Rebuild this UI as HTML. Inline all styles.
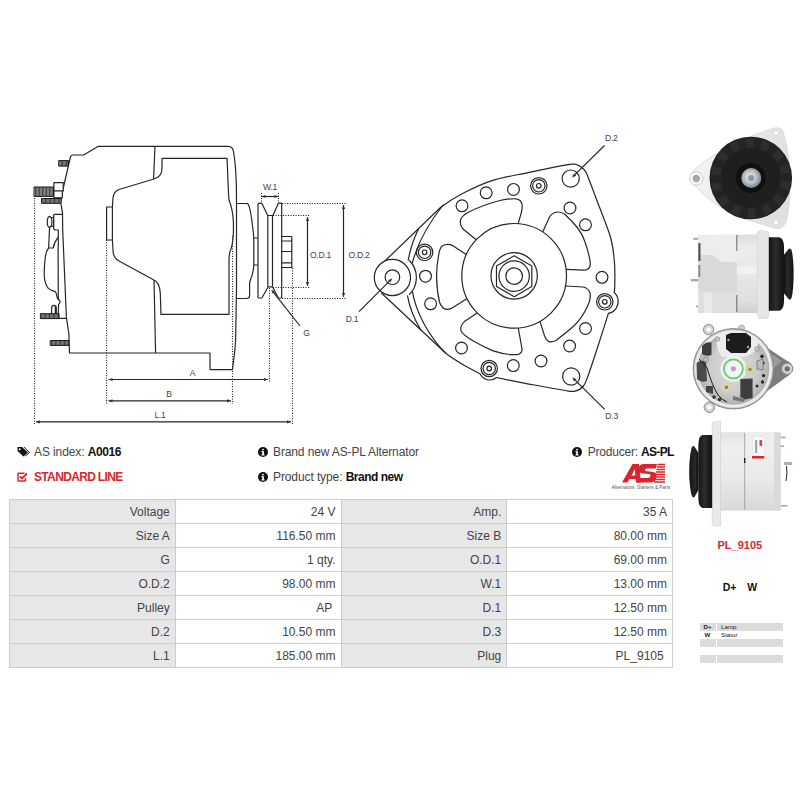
<!DOCTYPE html>
<html><head><meta charset="utf-8"><style>
*{margin:0;padding:0;box-sizing:border-box}
html,body{width:800px;height:800px;background:#fff;overflow:hidden}
body{position:relative;font-family:"Liberation Sans",sans-serif;color:#333}
svg.main{position:absolute;left:0;top:0}
.t{position:absolute;white-space:nowrap;font-size:12px;line-height:14px;color:#444}
.t b{color:#111}
.red{color:#d9262e !important;font-weight:bold}
table{position:absolute;left:9px;top:499px;width:664px;border-collapse:collapse;table-layout:fixed;font-size:12px}
td{height:24px;border:1px solid #cdcdcd;text-align:right;padding:0 5px 0 0;color:#444;background:#fff;line-height:14px}
td.l{background:#e7e7e7}
.mini{position:absolute;left:699.5px;top:623.2px;width:83.5px}
.mini div{height:7.9px;display:flex;font-size:6.2px;line-height:7.9px;color:#222}
.mini span{display:block}
.mini .a{width:16px;text-align:center;font-weight:bold;margin-right:1.5px}
.mini .b{flex:1;padding-left:4px}
.mini .g span{background:#dcdcdc}
</style></head><body>
<svg class="main" width="800" height="800" viewBox="0 0 800 800">
<g fill="none" stroke="#262626" stroke-width="1.2" stroke-linejoin="round" font-family="Liberation Sans, sans-serif">
<g>
<path d="M69.5 353 L210 353 L210 369.6 L232.4 369.6 C233.5 362 235 352 235.6 340 L236.5 290 L236.5 200 C236.5 175 235 160 233.5 152 Q233 146.4 228 146.4 L98 146.4 L83.6 155 L73 155 Q70.8 155 70.3 157.5 L64.2 184 L61.5 196.4 L60.8 203 L62.5 213 L62.7 230 L66.4 317.7 L68.9 334 L69.5 353 Z" fill="#fff"/>
<path d="M155 146.4 L153.6 179 M154 280 L155.6 353"/>
<path d="M162 158.4 L227 158.4 C228 175 228 190 229 200 C231 205 233 212 233.4 222 C233.8 236 233 243 231 249 C229.5 252 229 255 229 260 L229 314.4 L161 314.4 L160.3 293 C159.8 285 157 281 153 279.5 L119 261 C115 259 113 256 113 250 L112.4 240 L112.4 207 L113 198 C113.5 193 115 191 119 189.5 L154 179 C159 177 162 175 162 168 Z"/>
<path d="M112.4 207 L106.6 207 L106.6 240 L112.4 240"/>
<path d="M236.5 203.5 L247.5 203.5 C249.5 205 251 212 252.7 227.5 C253.5 233 253.8 236 253.8 240 L253.8 265 C253.8 271 252 276 250.2 280.5 L249.6 283 L249.6 295.5 Q249.6 298.5 246.5 298.5 L236.5 298.5"/>
<path d="M253.8 238 H258 M253.8 265 H258"/>
<path d="M258 298 L258 205 Q258 203.2 260 203.2 L261.8 203.2 L267.8 215.5 L273 215.5 L278.3 203.2 L281.7 203.2 L281.7 298 M258 298 Q258 298 261.8 298 L268.3 286.8 L272.5 286.8 L278.3 298 L281.7 298"/>
<path d="M267.8 215.5 V286.8 M272.5 215.5 V286.8"/>
<path d="M281.7 236.5 H291.8 V267.5 H281.7 M281.7 241 H291.8 M281.7 251.5 H291.8 M281.7 262.8 H291.8"/>
<path d="M58.1 246 L58.3 300 M40.4 318.4 L66.4 318.4"/>
<path d="M62.6 214.4 L54.8 214.4 Q53.6 214.4 53.6 215.6 L53.6 228 Q53.8 230 56 230 L58.3 230 L58.3 246"/>
<path d="M49.6 227.2 L48.6 248 L53.3 247.8 Q54.2 241.9 58.3 237.2"/>
<path d="M48.6 248 Q46 251 45.2 258 Q44 268 44.3 276 Q44.8 284 48.3 288.4 Q51 290.8 54.9 291.3 Q56.3 292.5 56.6 295 Q57 299 60 301 Q60.5 302.5 58.6 304.4 L58.1 318.4"/>
<rect x="50" y="217.5" width="3.6" height="8.8" fill="#fff"/>
<ellipse cx="49.6" cy="221.9" rx="2.3" ry="5.2" fill="#fff"/>
<path d="M51.6 314.4 L51.6 308 Q51.8 305.3 54 305.3 Q56.3 305.3 56.3 308 L56.3 314.4 M55.3 306 V314.4"/>
<rect x="53.9" y="182.6" width="9.3" height="8.4" fill="#fff"/>
<rect x="53.9" y="191" width="8.4" height="6.8" fill="#fff"/>
<rect x="58.7" y="160.6" width="9.8" height="5.5" fill="#d0d0d0" stroke="#1a1a1a" stroke-width="1"/><path d="M60 160.6V166.1M61.3 160.6V166.1M62.6 160.6V166.1M63.9 160.6V166.1M65.2 160.6V166.1M66.5 160.6V166.1M67.8 160.6V166.1" stroke="#1a1a1a" stroke-width="0.8"/>
<rect x="34" y="187" width="19.5" height="9.4" fill="#d0d0d0" stroke="#1a1a1a" stroke-width="1"/><path d="M35.4 187V196.4M36.8 187V196.4M38.2 187V196.4M39.6 187V196.4M41 187V196.4M42.4 187V196.4M43.8 187V196.4M45.2 187V196.4M46.6 187V196.4M48 187V196.4M49.4 187V196.4M50.8 187V196.4M52.2 187V196.4" stroke="#1a1a1a" stroke-width="0.8"/>
<rect x="41.5" y="198.5" width="19.5" height="4.8" fill="#d0d0d0" stroke="#1a1a1a" stroke-width="1"/><path d="M42.8 198.5V203.3M44.1 198.5V203.3M45.4 198.5V203.3M46.7 198.5V203.3M48 198.5V203.3M49.3 198.5V203.3M50.6 198.5V203.3M51.9 198.5V203.3M53.2 198.5V203.3M54.5 198.5V203.3M55.8 198.5V203.3M57.1 198.5V203.3M58.4 198.5V203.3M59.7 198.5V203.3" stroke="#1a1a1a" stroke-width="0.8"/>
<rect x="40.4" y="313.7" width="18.7" height="4.9" fill="#d0d0d0" stroke="#1a1a1a" stroke-width="1"/><path d="M41.7 313.7V318.6M43 313.7V318.6M44.3 313.7V318.6M45.6 313.7V318.6M46.9 313.7V318.6M48.2 313.7V318.6M49.5 313.7V318.6M50.8 313.7V318.6M52.1 313.7V318.6M53.4 313.7V318.6M54.7 313.7V318.6M56 313.7V318.6M57.3 313.7V318.6M58.6 313.7V318.6" stroke="#1a1a1a" stroke-width="0.8"/>
<rect x="50.2" y="340.5" width="18.8" height="4.9" fill="#d0d0d0" stroke="#1a1a1a" stroke-width="1"/><path d="M51.5 340.5V345.4M52.8 340.5V345.4M54.1 340.5V345.4M55.4 340.5V345.4M56.7 340.5V345.4M58 340.5V345.4M59.3 340.5V345.4M60.6 340.5V345.4M61.9 340.5V345.4M63.2 340.5V345.4M64.5 340.5V345.4M65.8 340.5V345.4M67.1 340.5V345.4M68.4 340.5V345.4" stroke="#1a1a1a" stroke-width="0.8"/>
<line x1="34.5" y1="198" x2="34.5" y2="424" stroke-dasharray="1.1 1.4" stroke-width="1.1" stroke="#222"/>
<line x1="106.5" y1="240" x2="106.5" y2="404" stroke-dasharray="1.1 1.4" stroke-width="1.1" stroke="#222"/>
<line x1="232.5" y1="236" x2="232.5" y2="404" stroke-dasharray="1.1 1.4" stroke-width="1.1" stroke="#222"/>
<line x1="269.5" y1="288" x2="269.5" y2="382" stroke-dasharray="1.1 1.4" stroke-width="1.1" stroke="#222"/>
<line x1="292.5" y1="268" x2="292.5" y2="424" stroke-dasharray="1.1 1.4" stroke-width="1.1" stroke="#222"/>
<line x1="282" y1="203.5" x2="346" y2="203.5" stroke-dasharray="1.1 1.4" stroke-width="1.1" stroke="#222"/>
<line x1="273" y1="215.5" x2="309" y2="215.5" stroke-dasharray="1.1 1.4" stroke-width="1.1" stroke="#222"/>
<line x1="273" y1="287.5" x2="310" y2="287.5" stroke-dasharray="1.1 1.4" stroke-width="1.1" stroke="#222"/>
<line x1="282" y1="298.5" x2="346" y2="298.5" stroke-dasharray="1.1 1.4" stroke-width="1.1" stroke="#222"/>
<line x1="261.5" y1="193" x2="261.5" y2="203" stroke-dasharray="1.1 1.4" stroke-width="1.1" stroke="#222"/>
<line x1="278.5" y1="193" x2="278.5" y2="203" stroke-dasharray="1.1 1.4" stroke-width="1.1" stroke="#222"/>
<line x1="261.5" y1="196.5" x2="278.5" y2="196.5" /><path d="M261.5 196.5l4 -1.6v3.2z" fill="#333" stroke="none"/><path d="M278.5 196.5l-4 -1.6v3.2z" fill="#333" stroke="none"/>
<line x1="307.5" y1="217" x2="307.5" y2="286" /><path d="M307.5 217l-1.6 4h3.2z" fill="#333" stroke="none"/><path d="M307.5 286l-1.6 -4h3.2z" fill="#333" stroke="none"/>
<line x1="343.5" y1="205" x2="343.5" y2="297" /><path d="M343.5 205l-1.6 4h3.2z" fill="#333" stroke="none"/><path d="M343.5 297l-1.6 -4h3.2z" fill="#333" stroke="none"/>
<line x1="108.5" y1="379.5" x2="268" y2="379.5" /><path d="M108.5 379.5l4 -1.6v3.2z" fill="#333" stroke="none"/><path d="M268 379.5l-4 -1.6v3.2z" fill="#333" stroke="none"/>
<line x1="108.5" y1="400.8" x2="231" y2="400.8" /><path d="M108.5 400.8l4 -1.6v3.2z" fill="#333" stroke="none"/><path d="M231 400.8l-4 -1.6v3.2z" fill="#333" stroke="none"/>
<line x1="36" y1="421.8" x2="291" y2="421.8" /><path d="M36 421.8l4 -1.6v3.2z" fill="#333" stroke="none"/><path d="M291 421.8l-4 -1.6v3.2z" fill="#333" stroke="none"/>
<line x1="300" y1="326" x2="274.08" y2="293.04" /><path d="M271.3 289.5L275.42 291.99L272.75 294.09Z" fill="#333" stroke="none"/>
<text x="270" y="189.5" text-anchor="middle" font-size="8.6" stroke="none" fill="#444" letter-spacing="-0.25">W.1</text>
<text x="320.5" y="257.5" text-anchor="middle" font-size="8.6" stroke="none" fill="#444" letter-spacing="-0.25">O.D.1</text>
<text x="359" y="257.5" text-anchor="middle" font-size="8.6" stroke="none" fill="#444" letter-spacing="-0.25">O.D.2</text>
<text x="306.5" y="335.5" text-anchor="middle" font-size="8.6" stroke="none" fill="#444" letter-spacing="-0.25">G</text>
<text x="192.5" y="376" text-anchor="middle" font-size="8.6" stroke="none" fill="#444" letter-spacing="-0.25">A</text>
<text x="169" y="396.5" text-anchor="middle" font-size="8.6" stroke="none" fill="#444" letter-spacing="-0.25">B</text>
<text x="160" y="417.5" text-anchor="middle" font-size="8.6" stroke="none" fill="#444" letter-spacing="-0.25">L.1</text>
<path d="M384.6 261.3 L441 207 C446.67 202.87 455.5 197.2 464 192.8 C472.5 188.4 481.33 183.97 492 180.6 C502.67 177.23 516.33 175.1 528 172.6 C539.67 170.1 554.17 167 562 165.6 C569.83 164.2 571.33 163.55 575 164.2 C578.67 164.85 581.83 167.37 584 169.5 C586.17 171.63 585.75 171.58 588 177 C590.25 182.42 593.73 191.92 597.5 202 C601.27 212.08 607.78 227.5 610.6 237.5 C613.42 247.5 613.7 254.25 614.4 262 C615.1 269.75 614.83 278.92 614.8 284 C614.77 289.08 614.3 291.08 614.2 292.5 A12.2 12.2 0 0 1 608.4 313.4 C606.67 318.83 601.32 335.82 598 346 C594.68 356.18 590.92 367.83 588.5 374.5 C586.08 381.17 585.75 383.22 583.5 386 C581.25 388.78 578.08 390.45 575 391.2 C571.92 391.95 570.83 391.37 565 390.5 C559.17 389.63 547.5 387.37 540 386 C532.5 384.63 527.25 383.72 520 382.3 C512.75 380.88 500.42 378.3 496.5 377.5 A10.6 10.6 0 0 1 480.2 374 C477.17 372.33 467.7 367.42 462 364 C456.3 360.58 450.33 356.8 446 353.5 L381.4 293" fill="#fff"/>
<path d="M418.5 229 C413 240 410 250 408.2 260.4"/>
<path d="M443.5 204.5 C428 224 417 245 412.3 263"/>
<path d="M407.4 295.4 C409.5 307 414 319 421 330.2"/>
<path d="M412.3 291.3 C416 312 428 335 445.5 353"/>
<path d="M409.07 260.24 A24 24 0 0 1 409.07 294.76"/>
<circle cx="392.4" cy="277.5" r="18.1" fill="#fff"/>
<circle cx="392.4" cy="277.2" r="7.3" />
<circle cx="514.15" cy="275.85" r="52.35" />
<path d="M476.25 239.74 L463 229 Q459.5 225 460.5 220 Q462 216 467 213 Q482 205 500 200.5 Q510 198.5 516 198.8 Q521 199.5 522 204 Q522.5 208 521.5 212 L518.2 223.66"/>
<path d="M542.72 231.98 L549.4 217.3 Q552 212.5 557.5 212 Q562 211.8 565 214.5 Q571 220 576 226 Q582 233 585 242 Q589.5 255 590.3 263 Q590.5 270 584 270.2 L566.1 269.42"/>
<path d="M565.51 286 L583.1 287 Q588.5 288 590 293 Q591 298 588.5 304 Q583 317 574.4 325.5 Q566 333 556 340.5 Q552 342.5 549 341.7 Q546 340 544.6 336 L539.96 321.4"/>
<path d="M477.23 312.97 L464.4 321.6 Q460 325.5 461 331 Q463 335 473.75 341.25 Q483 346.5 492.5 350.6 Q503 354.2 511.25 354.6 L516.9 354.6 Q522.5 353.5 522 348.75 L518.26 328.04"/>
<path d="M466.31 254.59 L452.5 245.6 Q447.5 243 442.5 245.8 Q439.5 248 438.5 256 Q436.5 266 436.6 277.5 Q436.8 291 439.5 302 Q441.5 308.5 446.5 309.3 Q450 309.5 453 307.5 L466.99 298.57"/>
<circle cx="514.15" cy="275.85" r="23.2" />
<path d="M514.15 255.85 L531.82 266.05 L531.82 286.45 L514.15 296.65 L496.48 286.45 L496.48 266.05Z"/>
<circle cx="514.15" cy="276.15" r="15.2" />
<circle cx="514.15" cy="276.15" r="8.3" />
<circle cx="462" cy="205.8" r="5.9" />
<circle cx="486.2" cy="192.8" r="5.9" />
<circle cx="513.5" cy="189.4" r="5.9" />
<circle cx="570" cy="208" r="5.9" />
<circle cx="585.5" cy="224.8" r="5.9" />
<circle cx="602" cy="277.3" r="5.9" />
<circle cx="585.5" cy="328.5" r="5.9" />
<circle cx="569.6" cy="346" r="5.9" />
<circle cx="541" cy="361" r="5.9" />
<circle cx="513.3" cy="365.6" r="5.9" />
<circle cx="461.5" cy="348" r="5.9" />
<circle cx="425.5" cy="276.2" r="5.9" />
<circle cx="430.6" cy="303.8" r="5.9" />
<circle cx="538.8" cy="185.8" r="8.2" />
<circle cx="538.8" cy="185.8" r="6.2" />
<circle cx="538.8" cy="185.8" r="2.3" />
<circle cx="424.6" cy="252.3" r="8.2" />
<circle cx="424.6" cy="252.3" r="6.2" />
<circle cx="424.6" cy="252.3" r="2.3" />
<circle cx="489.2" cy="368.5" r="8.2" />
<circle cx="489.2" cy="368.5" r="6.2" />
<circle cx="489.2" cy="368.5" r="2.3" />
<circle cx="604.8" cy="301.8" r="8.2" />
<circle cx="604.8" cy="301.8" r="6.2" />
<circle cx="604.8" cy="301.8" r="2.3" />
<circle cx="570.7" cy="178.6" r="8.6" />
<circle cx="571.2" cy="376.5" r="8.6" />
<line x1="604.5" y1="145.5" x2="575.2" y2="174.44" /><path d="M572 177.6L574.01 173.23L576.4 175.65Z" fill="#333" stroke="none"/>
<line x1="604.7" y1="409.4" x2="575.4" y2="380.37" /><path d="M572.2 377.2L576.59 379.16L574.2 381.57Z" fill="#333" stroke="none"/>
<line x1="359" y1="311.6" x2="389.22" y2="281.38" /><path d="M392.4 278.2L390.42 282.58L388.02 280.18Z" fill="#333" stroke="none"/>
<text x="611.3" y="140.6" text-anchor="middle" font-size="8.6" stroke="none" fill="#444" letter-spacing="-0.25">D.2</text>
<text x="611.6" y="418.7" text-anchor="middle" font-size="8.6" stroke="none" fill="#444" letter-spacing="-0.25">D.3</text>
<text x="352" y="322" text-anchor="middle" font-size="8.6" stroke="none" fill="#444" letter-spacing="-0.25">D.1</text>
</g>
</g>
<g font-family="Liberation Sans, sans-serif">

<defs>
 <linearGradient id="flG" x1="0" y1="0" x2="1" y2="0.2">
  <stop offset="0" stop-color="#f7f7f7"/><stop offset="0.4" stop-color="#ececec"/><stop offset="1" stop-color="#e0e0e0"/>
 </linearGradient>
 <linearGradient id="bodyG" x1="0" y1="0" x2="0" y2="1">
  <stop offset="0" stop-color="#dcdcdc"/><stop offset="0.15" stop-color="#ececec"/><stop offset="0.5" stop-color="#e8e8e8"/><stop offset="0.85" stop-color="#dedede"/><stop offset="1" stop-color="#cfcfcf"/>
 </linearGradient>
 <linearGradient id="bodyG2" x1="0" y1="0" x2="0" y2="1">
  <stop offset="0" stop-color="#e2e2e2"/><stop offset="0.2" stop-color="#efefef"/><stop offset="0.6" stop-color="#e9e9e9"/><stop offset="1" stop-color="#d8d8d8"/>
 </linearGradient>
 <linearGradient id="fanS" x1="0" y1="0" x2="1" y2="0">
  <stop offset="0" stop-color="#151515"/><stop offset="0.45" stop-color="#2c2c2c"/><stop offset="0.7" stop-color="#1e1e1e"/><stop offset="1" stop-color="#141414"/>
 </linearGradient>
 <linearGradient id="pulS" x1="0" y1="0" x2="1" y2="0">
  <stop offset="0" stop-color="#111"/><stop offset="0.5" stop-color="#262626"/><stop offset="1" stop-color="#121212"/>
 </linearGradient>
 <radialGradient id="rearG" cx="0.5" cy="0.5" r="0.5">
  <stop offset="0" stop-color="#dedede"/><stop offset="0.6" stop-color="#cbcbcb"/><stop offset="0.86" stop-color="#b5b5b5"/><stop offset="0.9" stop-color="#e2e2e2"/><stop offset="0.97" stop-color="#d0d0d0"/><stop offset="1" stop-color="#8a8a8a"/>
 </radialGradient>
 <radialGradient id="nutG" cx="0.45" cy="0.45" r="0.6">
  <stop offset="0" stop-color="#f0f4f8"/><stop offset="0.5" stop-color="#b9c2ca"/><stop offset="1" stop-color="#6f7880"/>
 </radialGradient>
</defs>
<path d="M693.5 170.5 C705 160 727 145 750 136.5 L771 129 Q779 126 782.5 130 Q786 140 789 160 L790 190 Q789.5 210 786 222 Q783 229.5 776 228.5 L752 221.3 C730 215 708 201 695.5 186 Q688 178.5 693.5 170.5 Z" fill="url(#flG)" stroke="#d4d4d4" stroke-width="0.7"/>
<circle cx="696.3" cy="178.5" r="6.8" fill="#f6f6f6" stroke="#c8c8c8" stroke-width="0.8"/>
<circle cx="696.3" cy="178.5" r="3.2" fill="#a8a8a8" stroke="#888" stroke-width="0.6"/>
<circle cx="776" cy="133" r="2.8" fill="#fafafa" stroke="#c4c4c4" stroke-width="0.6"/>
<circle cx="776" cy="222.6" r="2.8" fill="#fafafa" stroke="#c4c4c4" stroke-width="0.6"/>
<circle cx="750.8" cy="178" r="41.3" fill="#232323"/>
<path d="M781.2 180.7L790.6 181.5L788.8 190.4L779.8 187.4Z" fill="#2d2d2d"/>
<path d="M777.0 193.6L785.2 198.4L779.7 205.6L772.8 199.1Z" fill="#2d2d2d"/>
<path d="M767.7 203.4L772.9 211.3L764.9 215.4L761.5 206.6Z" fill="#2d2d2d"/>
<path d="M755.0 208.2L756.3 217.6L747.2 217.8L748.1 208.4Z" fill="#2d2d2d"/>
<path d="M741.4 207.0L738.5 216.1L730.3 212.3L735.2 204.2Z" fill="#2d2d2d"/>
<path d="M729.8 200.1L723.2 207.0L717.4 200.0L725.3 194.8Z" fill="#2d2d2d"/>
<path d="M722.3 188.8L713.4 192.1L711.2 183.4L720.6 182.1Z" fill="#2d2d2d"/>
<path d="M720.4 175.3L711.0 174.5L712.8 165.6L721.8 168.6Z" fill="#2d2d2d"/>
<path d="M724.6 162.4L716.4 157.6L721.9 150.4L728.8 156.9Z" fill="#2d2d2d"/>
<path d="M733.9 152.6L728.7 144.7L736.7 140.6L740.1 149.4Z" fill="#2d2d2d"/>
<path d="M746.6 147.8L745.3 138.4L754.4 138.2L753.5 147.6Z" fill="#2d2d2d"/>
<path d="M760.2 149.0L763.1 139.9L771.3 143.7L766.4 151.8Z" fill="#2d2d2d"/>
<path d="M771.8 155.9L778.4 149.0L784.2 156.0L776.3 161.2Z" fill="#2d2d2d"/>
<path d="M779.3 167.2L788.2 163.9L790.4 172.6L781.0 173.9Z" fill="#2d2d2d"/>
<circle cx="750.8" cy="178" r="29.5" fill="#1f1f1f"/>
<circle cx="750.8" cy="178" r="15" fill="#101010"/>
<circle cx="751.3" cy="178" r="10" fill="url(#nutG)"/>
<circle cx="751.0999999999999" cy="178" r="3" fill="#8d969e"/>
<rect x="693.4" y="237.8" width="7" height="2" fill="#a9a9a9"/>
<rect x="691" y="279" width="8" height="2.4" fill="#a9a9a9"/>
<rect x="696" y="305.5" width="5" height="1.8" fill="#a9a9a9"/>
<path d="M698.3 235 L757.5 234.6 L757.5 313 L698.3 313 Z" fill="url(#bodyG)"/>
<path d="M698.3 235 L736.8 235 L736.8 262 L722 262 L712 255 L698.3 255 Z" fill="#ededed"/>
<path d="M698.3 255 L712 255 L722 262 L736.8 262 L736.8 292 L698.3 292 Z" fill="#d9d9d9"/>
<path d="M698.3 292 L736.8 292 L736.8 313 L698.3 313 Z" fill="#dfdfdf"/>
<path d="M704 292 L712 292 L712 313 L704 313 Z" fill="#e9e9e9"/>
<path d="M736.8 266 L757.5 266 L757.5 274 L736.8 274 Z" fill="#f1f1f1"/>
<rect x="698.3" y="243" width="2.2" height="18" fill="#555"/>
<rect x="698.3" y="265" width="2" height="12" fill="#8a8a8a"/>
<path d="M736.8 235 V251 M736.8 295 V312" stroke="#5a5a5a" stroke-width="0.9"/>
<path d="M757.4 233 Q758 230.5 761 230.5 L768 231.5 L769 236 L769 313 L768 318 L761 318.5 Q758 318.5 757.4 316 Z" fill="#e6e6e6" stroke="#cdcdcd" stroke-width="0.6"/>
<path d="M768.8 237.2 L779 237.2 Q783.5 238 784 246 L784.3 274 L784 302 Q783.5 310 779 310.8 L768.8 310.8 Z" fill="url(#fanS)"/>
<path d="M783.5 255.5 L788.5 249 Q790.5 247.5 791.5 250 Q793.6 258 793.6 274 Q793.6 290 791.5 298 Q790.5 300.5 788.5 299 L783.5 292.5 Z" fill="url(#pulS)"/>
<path d="M786.3 257 L787.2 274 L786.3 291" fill="none" stroke="#333" stroke-width="0.8"/>
<path d="M766 347 L785 359.5 Q794 364 793 369 Q792 374 785 378 L766 392 Z" fill="#7d7d7d"/>
<path d="M768 352 L782 361 L769 372 Z" fill="#9a9a9a"/>
<circle cx="787.2" cy="368.8" r="5.6" fill="#d3d3d3" stroke="#8a8a8a" stroke-width="1"/>
<circle cx="787.2" cy="368.8" r="2.6" fill="#6c6c6c"/>
<circle cx="708.6" cy="329.6" r="5.2" fill="#d2d2d2" stroke="#8a8a8a" stroke-width="1"/>
<circle cx="708.6" cy="329.6" r="2.4" fill="#fff"/>
<circle cx="709.3" cy="407.3" r="5.2" fill="#d2d2d2" stroke="#8a8a8a" stroke-width="1"/>
<circle cx="709.3" cy="407.3" r="2.4" fill="#fff"/>
<circle cx="741.6" cy="328" r="3" fill="#d0d0d0" stroke="#999" stroke-width="0.7"/>
<circle cx="733.4" cy="368.8" r="40.2" fill="url(#rearG)" stroke="#8a8a8a" stroke-width="1"/>
<circle cx="733.4" cy="368.8" r="37.3" fill="none" stroke="#ececec" stroke-width="2.2"/>
<circle cx="733.4" cy="368.8" r="35.3" fill="none" stroke="#a6a6a6" stroke-width="0.8"/>
<path d="M716 336 Q722 331 740 331 Q756 333 758 343 Q757 355 742 357 L722 357 Q716 350 716 336 Z" fill="#ececec"/>
<path d="M726 335 L731 333 L746 333 L751 337 L751 347 L746 353 L731 353 L726 349 Z" fill="#1c1c1c"/>
<circle cx="728.5" cy="340" r="1.2" fill="#aaa"/><circle cx="748" cy="347" r="1.2" fill="#aaa"/>
<path d="M702 346 Q706 341 711.5 342.5 L711.5 355 Q706 357 702 354 Z" fill="#3c3c3c"/>
<path d="M696.5 363 Q700 360 706 361 L707 381 Q701 383 697 379 Z" fill="#4a4a4a"/>
<path d="M706 386 L713 386 L713 394 L706 392 Z" fill="#444"/>
<circle cx="714" cy="397" r="1.8" fill="#333"/><circle cx="719.6" cy="399.5" r="1.8" fill="#333"/>
<circle cx="733.4" cy="368.8" r="13" fill="#f0f0f0"/>
<circle cx="733.4" cy="368.8" r="9.5" fill="#f6f6f6" stroke="#5fcf6a" stroke-width="1.8"/>
<circle cx="733.4" cy="368.8" r="2.6" fill="#b7a4cf"/>
<circle cx="750" cy="369.5" r="5" fill="#d7d29a"/><circle cx="750" cy="369.5" r="1.8" fill="#8d8a6a"/>
<circle cx="726.5" cy="387.3" r="5" fill="#dcd79e"/><circle cx="726.5" cy="387.3" r="1.8" fill="#8a6aa0"/>
<path d="M740.3 379 L752.6 378.4 L752.6 398 L745 399.5 L740.3 397 Z" fill="#3e3e3e"/>
<path d="M733 396 L745 399 L744 402 L733 400 Z" fill="#777"/>
<circle cx="762" cy="356.4" r="1.8" fill="#2a2a2a"/>
<circle cx="763" cy="363" r="1.6" fill="#2a2a2a"/>
<circle cx="763.6" cy="375.6" r="1.7" fill="#2a2a2a"/>
<circle cx="762.5" cy="382" r="1.7" fill="#2a2a2a"/>
<circle cx="757" cy="386" r="1.5" fill="#2a2a2a"/>
<path d="M757 361 L763 359 L763 370 L757 369 Z" fill="#bdbdbd" stroke="#555" stroke-width="0.6"/>
<path d="M699 359 Q703 362 707 368 Q712 385 718 395 Q722 400 727 402" stroke="#1a1a1a" stroke-width="1" fill="none"/>
<circle cx="706" cy="359.5" r="2.5" fill="#bfbfbf" stroke="#777" stroke-width="0.6"/>
<circle cx="717.5" cy="339" r="2.2" fill="#c8c8c8" stroke="#777" stroke-width="0.6"/>
<circle cx="757" cy="349" r="2.2" fill="#c8c8c8" stroke="#777" stroke-width="0.6"/>
<rect x="720" y="432.3" width="60.6" height="78.3" fill="url(#bodyG2)"/>
<rect x="745.5" y="432.3" width="35" height="24" fill="#eeeeee"/>
<path d="M744.7 433 V510" stroke="#8a8a8a" stroke-width="0.7"/>
<path d="M744.7 458 V463" stroke="#222" stroke-width="1.4"/>
<path d="M774 432.3 L780.6 432.3 L780.6 510.6 L774 510.6 Z" fill="#dadada"/>
<path d="M712.2 423 Q713 421.3 716 421.3 L720.5 421.5 L720.5 526 L716 526 Q712.8 526 712.2 523.5 Z" fill="#e9e9e9" stroke="#cdcdcd" stroke-width="0.6"/>
<path d="M712.2 435 L702.5 435 Q698.6 436 698.4 444 L698.2 471 L698.4 499 Q698.6 507 702.5 508 L712.2 508 Z" fill="url(#fanS)"/>
<path d="M698.4 453 L694.5 446.5 Q692.5 445 691.5 448 Q689.2 458 689.2 471.5 Q689.2 485 691.5 495 Q692.5 498.5 694.5 497 L698.4 490 Z" fill="url(#pulS)"/>
<path d="M695.8 455 L694.9 471.5 L695.8 488" fill="none" stroke="#333" stroke-width="0.8"/>
<rect x="752.6" y="436.6" width="12.2" height="21.4" fill="#f7f7f7" stroke="#d6d6d6" stroke-width="0.4"/>
<rect x="755" y="440" width="2.2" height="13" fill="#9aa8b8"/>
<rect x="759.5" y="440" width="2.6" height="6" fill="#d44"/>
<rect x="752" y="456" width="12.2" height="2.5" fill="#d8262e"/>
<rect x="780.6" y="436.6" width="5" height="1.6" fill="#a9a9a9"/>
<rect x="780.6" y="445.4" width="3.4" height="1.6" fill="#a9a9a9"/>
<rect x="780.6" y="505" width="7" height="1.6" fill="#a9a9a9"/>
<rect x="784" y="462" width="8" height="3" fill="#9fb2c2"/>
<path d="M786.5 466 Q787.6 474 786 481" stroke="#222" stroke-width="1" fill="none"/>
<g transform="translate(622,464)"><path d="M0 18.5 L10.5 0 L17 0 L19 18.5 L14 18.5 L13.6 15 L7.5 15 L5.5 18.5 Z M9.5 11.5 L13.3 11.5 L12.8 5 Z" fill="#d9262e"/><path d="M35 0 L22 0 Q17 0 16.5 5 Q16 9 21 9.5 L27 10 Q29 10.3 28.5 12 Q28 14 25.5 14 L16 14 L15 18.5 L28 18.5 Q34 18.5 34.5 12.5 Q35 8 30 7.7 L24.5 7.3 Q22.5 7 23 5.5 Q23.5 4.4 25 4.4 L34 4.4 Z" fill="#d9262e"/><path d="M35.5 0.5 H43 M35 3 H43 M34.5 5.5 H43 M34 8 H43 M33.5 10.5 H43 M33 13 H43 M32.5 15.5 H43 M32 18 H43" stroke="#d9262e" stroke-width="1.3"/></g>
<text x="641" y="489.3" text-anchor="middle" font-size="4.6" fill="#555" letter-spacing="0.05">Alternators, Starters &amp; Parts</text>
</g>
</svg>
<!-- info rows -->
<svg style="position:absolute;left:17px;top:446px" width="13" height="11" viewBox="0 0 13 11"><path d="M0.5 1 L5 1 L11 6.5 L6.5 10.5 L0.5 5 Z" fill="#111"/><path d="M6.5 1 L7.5 1 L13 6.5 L8.5 10.5 L8 10 L12 6.5 Z" fill="#111"/><circle cx="2.7" cy="3.2" r="1" fill="#fff"/></svg>
<div class="t" style="left:34px;top:444.5px;letter-spacing:-0.1px">AS index: <b style="letter-spacing:-0.4px">A0016</b></div>
<svg style="position:absolute;left:17px;top:471.5px" width="11" height="10" viewBox="0 0 11 10"><path d="M7.5 1.2 H1.5 Q1 1.2 1 1.7 V8.5 Q1 9 1.5 9 H8 Q8.5 9 8.5 8.5 V6" fill="none" stroke="#d9262e" stroke-width="1.5"/><path d="M3 4.5 L5 6.5 L10 1.5" fill="none" stroke="#d9262e" stroke-width="1.8"/></svg>
<div class="t red" style="left:34px;top:470px;letter-spacing:-0.66px">STANDARD LINE</div>
<svg style="position:absolute;left:257.5px;top:446.5px" width="10" height="10" viewBox="0 0 10 10"><circle cx="5" cy="5" r="5" fill="#111"/><rect x="4.2" y="4.2" width="1.7" height="4" fill="#fff"/><rect x="3.3" y="4.2" width="1.5" height="0.9" fill="#fff"/><rect x="3.3" y="7.5" width="3.5" height="0.9" fill="#fff"/><circle cx="5" cy="2.6" r="0.95" fill="#fff"/></svg>
<div class="t" style="left:273px;top:444.5px;letter-spacing:-0.12px">Brand new AS-PL Alternator</div>
<svg style="position:absolute;left:257.5px;top:472px" width="10" height="10" viewBox="0 0 10 10"><circle cx="5" cy="5" r="5" fill="#111"/><rect x="4.2" y="4.2" width="1.7" height="4" fill="#fff"/><rect x="3.3" y="4.2" width="1.5" height="0.9" fill="#fff"/><rect x="3.3" y="7.5" width="3.5" height="0.9" fill="#fff"/><circle cx="5" cy="2.6" r="0.95" fill="#fff"/></svg>
<div class="t" style="left:273px;top:470px;letter-spacing:-0.1px">Product type: <b style="letter-spacing:-0.5px">Brand new</b></div>
<svg style="position:absolute;left:572px;top:446.5px" width="10" height="10" viewBox="0 0 10 10"><circle cx="5" cy="5" r="5" fill="#111"/><rect x="4.2" y="4.2" width="1.7" height="4" fill="#fff"/><rect x="3.3" y="4.2" width="1.5" height="0.9" fill="#fff"/><rect x="3.3" y="7.5" width="3.5" height="0.9" fill="#fff"/><circle cx="5" cy="2.6" r="0.95" fill="#fff"/></svg>
<div class="t" style="left:587.7px;top:444.5px;letter-spacing:-0.2px">Producer: <b style="letter-spacing:-0.7px">AS-PL</b></div>
<table><tr><td class="l">Voltage</td><td>24 V</td><td class="l">Amp.</td><td>35 A</td></tr><tr><td class="l">Size A</td><td>116.50 mm</td><td class="l">Size B</td><td>80.00 mm</td></tr><tr><td class="l">G</td><td>1 qty.</td><td class="l">O.D.1</td><td>69.00 mm</td></tr><tr><td class="l">O.D.2</td><td>98.00 mm</td><td class="l">W.1</td><td>13.00 mm</td></tr><tr><td class="l">Pulley</td><td>AP&nbsp;</td><td class="l">D.1</td><td>12.50 mm</td></tr><tr><td class="l">D.2</td><td>10.50 mm</td><td class="l">D.3</td><td>12.50 mm</td></tr><tr><td class="l">L.1</td><td>185.00 mm</td><td class="l">Plug</td><td>PL_9105&nbsp;</td></tr></table>
<div class="t red" style="left:717.5px;top:538px;font-size:11px;letter-spacing:0px">PL_9105</div>
<div class="t" style="left:722.7px;top:580px;font-size:10.5px;font-weight:bold;color:#111;word-spacing:8px">D+ W</div>
<div class="mini">
<div class="g"><span class="a">D+</span><span class="b">Lamp</span></div>
<div><span class="a">W</span><span class="b">Stator</span></div>
<div class="g"><span class="a">&nbsp;</span><span class="b">&nbsp;</span></div>
<div><span class="a">&nbsp;</span><span class="b">&nbsp;</span></div>
<div class="g"><span class="a">&nbsp;</span><span class="b">&nbsp;</span></div>
</div>
</body></html>
